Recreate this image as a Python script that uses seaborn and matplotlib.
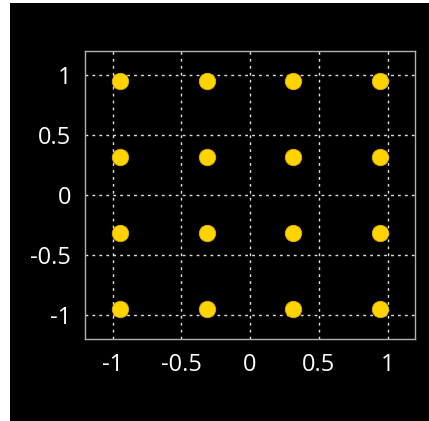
import seaborn as sns
import matplotlib.pyplot as plt
import pandas as pd
from matplotlib.patches import Rectangle

# 16-QAM constellation points (normalised)
levels = [-0.949, -0.316, 0.316, 0.949]
i_vals = [x for x in levels for y in levels]
q_vals = [y for x in levels for y in levels]
tick_vals = [-1, -0.5, 0, 0.5, 1]
tick_labels = ['-1', '-0.5', '0', '0.5', '1']

df = pd.DataFrame({'I': i_vals, 'Q': q_vals})

sns.set_style('dark')
plt.rcParams['font.family'] = ['Open Sans', 'DejaVu Sans']

fig = plt.figure(figsize=(4.29, 4.21), dpi=100, facecolor='white')
# black canvas, leaving a thin white strip on the left and top
fig.patches.append(Rectangle((10 / 429, 0), 1, 1 - 3 / 421, transform=fig.transFigure,
                             facecolor='black', edgecolor='none', zorder=-10))

ax = fig.add_axes([85 / 429, 1 - 339 / 421, 330 / 429, 288 / 421])
ax.set_facecolor('black')

sns.scatterplot(data=df, x='I', y='Q', ax=ax, s=140, color='#ffd400',
                edgecolor='#e0b000', linewidth=0.6, zorder=3)

ax.set_xlim(-1.2, 1.2)
ax.set_ylim(-1.2, 1.2)
ax.set_xticks(tick_vals)
ax.set_xticklabels(tick_labels)
ax.set_yticks(tick_vals)
ax.set_yticklabels(tick_labels)
ax.set_xlabel('')
ax.set_ylabel('')

ax.grid(True, color='#e0e0e0', linestyle=(0, (2, 3)), linewidth=1.0)
ax.tick_params(colors='white', labelsize=17, length=0, pad=10)
for sp in ax.spines.values():
    sp.set_visible(True)
    sp.set_color('#b0b0b0')
    sp.set_linewidth(1.0)

fig.savefig('out.png', dpi=100, facecolor=fig.get_facecolor())
